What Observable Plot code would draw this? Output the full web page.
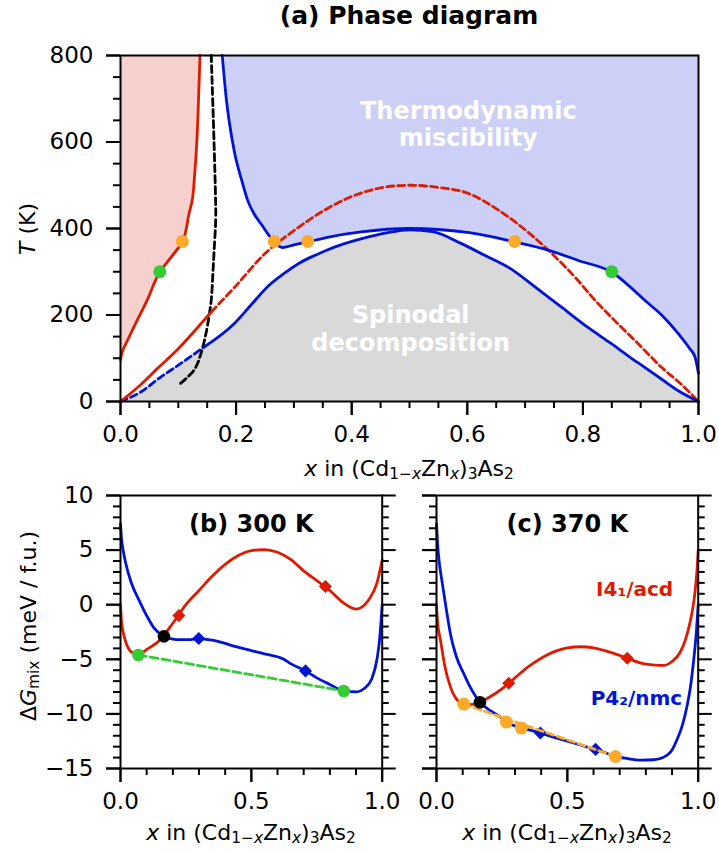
<!DOCTYPE html>
<html><head><meta charset="utf-8">
<script src="https://cdn.jsdelivr.net/npm/d3@7"></script>
<script src="https://cdn.jsdelivr.net/npm/@observablehq/plot@0.6"></script>
<style>
html,body{margin:0;padding:0;background:#fff;}
#wrap{position:relative;width:719px;height:853px;overflow:hidden;font-family:"DejaVu Sans",sans-serif;color:#000;}
#wrap > svg{position:absolute;margin:0;}
.lbl{position:absolute;white-space:nowrap;transform:translate(-50%,-50%);font-size:22px;line-height:1;}
.rot{transform:translate(-50%,-50%) rotate(-90deg);}
.bold{font-weight:bold;font-size:25px;}
.lbl sub{font-size:70%;vertical-align:-0.22em;line-height:0;}
</style></head><body><div id="wrap"></div>
<script>
// ===== Panel (a): phase diagram (x = Zn fraction, T in K) =====
const redBinX = [0, 0.003, 0.012, 0.023, 0.046, 0.068, 0.09, 0.107, 0.1185, 0.124, 0.128, 0.132, 0.135, 0.1375];
const redBinT = [96, 115, 141, 172, 234, 299, 338, 369, 434, 465, 520, 600, 700, 800];
const redLowX = [0, 0.03, 0.0636, 0.1, 0.13, 0.157];
const redLowT = [0, 33, 76, 122, 166, 207];
const redDashX = [0.157, 0.2, 0.25, 0.3, 0.35, 0.4, 0.45, 0.5, 0.55, 0.6, 0.65, 0.7, 0.74, 0.786, 0.821, 0.855, 0.896, 0.936, 0.97, 1.0];
const redDashT = [207, 268, 342, 395, 440, 474, 494, 500, 495, 482, 446, 397, 350, 288, 234, 187, 133, 79, 40, 0];
const blueBinX = [0.176, 0.183, 0.1965, 0.21, 0.22, 0.231, 0.243, 0.266, 0.28, 0.3, 0.324, 0.36, 0.416, 0.5, 0.6, 0.682, 0.74, 0.792, 0.85, 0.907, 0.94, 0.965, 0.985, 0.994, 1.0];
const blueBinT = [800, 700, 581, 510, 465, 434, 411, 369, 356, 362, 369, 380, 392, 400, 391, 369, 350, 326, 299, 234, 195, 157, 122, 103, 65];
const blueDashX = [0, 0.035, 0.069, 0.1, 0.1445];
const blueDashT = [0, 22, 56, 84, 126];
const spinX = [0.1445, 0.17, 0.1965, 0.225, 0.254, 0.283, 0.312, 0.34, 0.37, 0.416, 0.46, 0.5, 0.54, 0.59, 0.63, 0.676, 0.72, 0.763, 0.81, 0.85, 0.88, 0.907, 0.94, 0.965, 1.0];
const spinT = [126, 150, 180, 222, 265, 296, 322, 340, 357, 376, 390, 397, 393, 365, 338, 306, 262, 218, 170, 133, 104, 79, 48, 25, 0];
const blackX = [0.104, 0.115, 0.127, 0.134, 0.139, 0.145, 0.150, 0.154, 0.157, 0.160, 0.162, 0.1647, 0.1645, 0.1618, 0.157];
const blackT = [42, 55, 72, 90, 110, 140, 172, 205, 234, 300, 350, 420, 465, 600, 800];
const greenAX = [0.068, 0.85];
const greenAT = [300, 300];
const orangeAX = [0.107, 0.266, 0.324, 0.682];
const orangeAT = [370, 370, 370, 370];
const regionLabels = ["Thermodynamic\nmiscibility", "Spinodal\ndecomposition"];

// ===== Panel (b): 300 K, ΔG_mix (meV / f.u.) =====
const redBX = [0, 0.004, 0.01, 0.02, 0.04, 0.068, 0.1, 0.15, 0.2, 0.25, 0.3, 0.35, 0.4, 0.45, 0.5, 0.55, 0.6, 0.65, 0.7, 0.75, 0.8, 0.85, 0.9, 0.95, 0.98, 1.0];
const redBG = [0, -1.6, -2.5, -3.4, -4.3, -4.6, -4.1, -3.25, -1.7, 0.0, 1.3, 2.6, 3.7, 4.5, 4.95, 5.05, 4.8, 4.15, 3.1, 2.2, 1.3, 0.2, -0.4, 0.5, 2.0, 4.1];
const blueBX = [0, 0.004, 0.01, 0.02, 0.04, 0.076, 0.1, 0.127, 0.166, 0.2, 0.229, 0.26, 0.299, 0.35, 0.4, 0.433, 0.5, 0.55, 0.624, 0.65, 0.707, 0.75, 0.8, 0.853, 0.904, 0.93, 0.96, 0.98, 0.99, 1.0];
const blueBG = [7.4, 6.0, 5.0, 3.8, 2.1, 0.15, -1.0, -2.1, -2.9, -3.15, -3.2, -3.2, -3.1, -3.25, -3.55, -3.8, -4.2, -4.5, -5.0, -5.4, -6.06, -6.7, -7.3, -7.9, -7.98, -7.7, -6.8, -5.0, -3.2, 0];
const greenBX = [0.068, 0.853];
const greenBG = [-4.6, -7.9];
const blackBX = [0.166];
const blackBG = [-2.9];
const redDiaBX = [0.223, 0.783];
const redDiaBG = [-1.0, 1.67];
const blueDiaBX = [0.299, 0.707];
const blueDiaBG = [-3.1, -6.06];

// ===== Panel (c): 370 K =====
const redCX = [0, 0.004, 0.015, 0.03, 0.05, 0.075, 0.104, 0.13, 0.166, 0.2, 0.25, 0.276, 0.3, 0.35, 0.4, 0.45, 0.5, 0.55, 0.6, 0.65, 0.7, 0.729, 0.75, 0.8, 0.85, 0.87, 0.9, 0.93, 0.95, 0.97, 0.985, 0.995, 1.0];
const redCG = [0, -1.6, -3.2, -5.4, -7.3, -8.6, -9.1, -9.15, -8.94, -8.5, -7.7, -7.2, -6.7, -5.7, -4.9, -4.3, -3.95, -3.85, -3.95, -4.25, -4.65, -4.9, -5.1, -5.45, -5.55, -5.55, -5.2, -4.4, -3.3, -1.5, 0.6, 3.0, 5.0];
const blueCX = [0, 0.004, 0.01, 0.02, 0.028, 0.04, 0.0535, 0.075, 0.104, 0.13, 0.166, 0.2, 0.25, 0.267, 0.3, 0.324, 0.36, 0.397, 0.45, 0.5, 0.55, 0.608, 0.65, 0.684, 0.72, 0.78, 0.83, 0.88, 0.9, 0.92, 0.94, 0.958, 0.97, 0.983, 0.993, 1.0];
const blueCG = [7.4, 5.6, 4.0, 2.3, 1.06, -0.8, -2.7, -4.7, -6.3, -7.6, -8.94, -9.6, -10.4, -10.75, -11.1, -11.3, -11.5, -11.75, -12.15, -12.5, -12.85, -13.25, -13.6, -13.9, -14.05, -14.24, -14.2, -13.8, -13.3, -12.3, -11.0, -9.2, -7.6, -5.0, -2.5, 0];
const orangeCX = [0.104, 0.267, 0.324, 0.684];
const orangeCG = [-9.1, -10.75, -11.3, -13.9];
const tangentCX = [0.104, 0.684];
const tangentCG = [-9.1, -13.9];
const blackCX = [0.166];
const blackCG = [-8.94];
const redDiaCX = [0.276, 0.729];
const redDiaCG = [-7.2, -4.9];
const blueDiaCX = [0.397, 0.608];
const blueDiaCG = [-11.75, -13.25];
const phaseNames = ["I4₁/acd", "P4₂/nmc"];

// ===== ticks =====
const aXTicks = [0, 0.2, 0.4, 0.6, 0.8, 1.0];
const aXMinor = [0.05, 0.1, 0.15, 0.25, 0.3, 0.35, 0.45, 0.5, 0.55, 0.65, 0.7, 0.75, 0.85, 0.9, 0.95];
const aYTicks = [0, 200, 400, 600, 800];
const aYMinor = [50, 100, 150, 250, 300, 350, 450, 500, 550, 650, 700, 750];
const bXTicks = [0, 0.5, 1.0];
const bXMinor = [0.1, 0.2, 0.3, 0.4, 0.6, 0.7, 0.8, 0.9];
const bYTicks = [-15, -10, -5, 0, 5, 10];
const bYMinor = [-14, -13, -12, -11, -9, -8, -7, -6, -4, -3, -2, -1, 1, 2, 3, 4, 6, 7, 8, 9];

// ===== styling =====
const RED = "#de1b00", BLUE = "#0014d2", ORANGE = "#ffa928", GREEN = "#33cc33";
const PINK_FILL = "#f6d0cc", BLUE_FILL = "#cccff6", GRAY_FILL = "#d9d9d9";
const LW = 2.8;
const MAJOR = 14, MINOR = 7;
const zip = (xs, ys) => xs.map((x, i) => ({x, y: ys[i]}));
const fmtMinus = d => d < 0 ? "\u2212" + Math.abs(d) : String(d);
const baseStyle = {background: "transparent", fontFamily: "DejaVu Sans", fontSize: "23px", overflow: "visible", color: "black"};

// Tick labels via Plot axes; tick strokes via rules in data units (length derived from scale span)
function axes(dim, xDom, yDom, xT, xM, yT, yM, xFmt, showY, rightTicks) {
  const innerW = dim.width - dim.marginLeft - dim.marginRight;
  const innerH = dim.height - dim.marginTop - dim.marginBottom;
  const ux = (xDom[1] - xDom[0]) / innerW;   // data units per pixel (x)
  const uy = (yDom[1] - yDom[0]) / innerH;   // data units per pixel (y)
  const x0 = xDom[0], x1 = xDom[1], y0 = yDom[0];
  const st = {stroke: "black", strokeWidth: 2};
  const m = [
    Plot.axisX(xT, {anchor: "bottom", tickSize: MAJOR, tickPadding: 10, strokeWidth: 2, stroke: "black", tickFormat: xFmt, fontSize: 23, label: null}),
    Plot.axisY(yT, {anchor: "left", tickSize: MAJOR, tickPadding: 13, strokeWidth: 2, stroke: "black", tickFormat: showY ? fmtMinus : () => "", fontSize: 23, label: null}),
    Plot.ruleX(xT, {x: d => d, y1: y0, y2: y0 - MAJOR * uy, ...st}),
    Plot.ruleX(xM, {x: d => d, y1: y0, y2: y0 - MINOR * uy, ...st}),
    Plot.ruleY(yT, {y: d => d, x1: x0, x2: x0 - MAJOR * ux, ...st}),
    Plot.ruleY(yM, {y: d => d, x1: x0, x2: x0 - MINOR * ux, ...st})
  ];
  if (rightTicks) {
    m.push(Plot.ruleY(yT, {y: d => d, x1: x1, x2: x1 + MAJOR * ux, ...st}));
    m.push(Plot.ruleY(yM, {y: d => d, x1: x1, x2: x1 + MINOR * ux, ...st}));
  }
  return m;
}

const wrap = document.getElementById("wrap");
function place(el, left, top) { el.style.left = left + "px"; el.style.top = top + "px"; wrap.appendChild(el); }

// ----- Panel (a) -----
const dimA = {width: 719, height: 480, marginLeft: 120, marginRight: 21, marginTop: 55, marginBottom: 79};
const spinAll = zip(blueDashX, blueDashT).concat(zip(spinX, spinT).slice(1));
const plotA = Plot.plot({
  ...dimA,
  x: {domain: [0, 1], label: null},
  y: {domain: [0, 800], label: null},
  style: baseStyle,
  marks: [
    Plot.areaX(zip(redBinX, redBinT), {y: "y", x1: 0, x2: "x", fill: PINK_FILL, curve: "monotone-y"}),
    Plot.areaY(zip(blueBinX, blueBinT), {x: "x", y1: "y", y2: 800, fill: BLUE_FILL, curve: "monotone-x"}),
    Plot.areaY(spinAll, {x: "x", y1: 0, y2: "y", fill: GRAY_FILL, curve: "monotone-x"}),
    Plot.text([regionLabels[0]], {x: 0.6017, y: 642, fill: "white", fontWeight: "bold", fontSize: 24, lineHeight: 1.15}),
    Plot.text([regionLabels[1]], {x: 0.502, y: 170, fill: "white", fontWeight: "bold", fontSize: 24, lineHeight: 1.15}),
    Plot.line(zip(redDashX, redDashT), {x: "x", y: "y", stroke: RED, strokeWidth: LW, strokeDasharray: "7,4", curve: "catmull-rom"}),
    Plot.line(zip(blueDashX, blueDashT), {x: "x", y: "y", stroke: BLUE, strokeWidth: LW, strokeDasharray: "7,4", curve: "monotone-x"}),
    Plot.line(zip(blackX, blackT), {x: "x", y: "y", stroke: "black", strokeWidth: LW, strokeDasharray: "7,4", curve: "catmull-rom"}),
    Plot.line(zip(spinX, spinT), {x: "x", y: "y", stroke: BLUE, strokeWidth: LW, curve: "monotone-x"}),
    Plot.line(zip(blueBinX, blueBinT), {x: "x", y: "y", stroke: BLUE, strokeWidth: LW, curve: "monotone-x"}),
    Plot.line(zip(redBinX, redBinT), {x: "x", y: "y", stroke: RED, strokeWidth: LW, curve: "monotone-y"}),
    Plot.line(zip(redLowX, redLowT), {x: "x", y: "y", stroke: RED, strokeWidth: LW, curve: "monotone-x"}),
    Plot.dot(zip(greenAX, greenAT), {x: "x", y: "y", r: 6.5, fill: GREEN}),
    Plot.dot(zip(orangeAX, orangeAT), {x: "x", y: "y", r: 6.5, fill: ORANGE}),
    Plot.frame({stroke: "black", strokeWidth: 2}),
    ...axes(dimA, [0, 1], [0, 800], aXTicks, aXMinor, aYTicks, aYMinor, d => d.toFixed(1), true, false)
  ]
});
place(plotA, 0, 0);

// ----- Panel (b) -----
const dimB = {width: 400, height: 380, marginLeft: 120, marginRight: 18.3, marginTop: 25, marginBottom: 82};
const plotB = Plot.plot({
  ...dimB,
  x: {domain: [0, 1], label: null},
  y: {domain: [-15, 10], label: null},
  style: baseStyle,
  marks: [
    Plot.line(zip(blueBX, blueBG), {x: "x", y: "y", stroke: BLUE, strokeWidth: LW, curve: "monotone-x"}),
    Plot.line(zip(redBX, redBG), {x: "x", y: "y", stroke: RED, strokeWidth: LW, curve: "monotone-x"}),
    Plot.line(zip(greenBX, greenBG), {x: "x", y: "y", stroke: GREEN, strokeWidth: LW, strokeDasharray: "8,4"}),
    Plot.dot(zip(redDiaBX, redDiaBG), {x: "x", y: "y", symbol: "square", rotate: 45, r: 5.2, fill: RED}),
    Plot.dot(zip(blueDiaBX, blueDiaBG), {x: "x", y: "y", symbol: "square", rotate: 45, r: 5.2, fill: BLUE}),
    Plot.dot(zip(greenBX, greenBG), {x: "x", y: "y", r: 6.3, fill: GREEN}),
    Plot.dot(zip(blackBX, blackBG), {x: "x", y: "y", r: 6.3, fill: "black"}),
    Plot.text(["(b) 300 K"], {x: 0.5, y: 7.4, fontWeight: "bold", fontSize: 24}),
    Plot.frame({stroke: "black", strokeWidth: 2}),
    ...axes(dimB, [0, 1], [-15, 10], bXTicks, bXMinor, bYTicks, bYMinor, d => d.toFixed(1), true, true)
  ]
});
place(plotB, 0, 470);

// ----- Panel (c) -----
const dimC = {width: 319, height: 380, marginLeft: 36, marginRight: 21.3, marginTop: 25, marginBottom: 82};
const plotC = Plot.plot({
  ...dimC,
  x: {domain: [0, 1], label: null},
  y: {domain: [-15, 10], label: null},
  style: baseStyle,
  marks: [
    Plot.line(zip(blueCX, blueCG), {x: "x", y: "y", stroke: BLUE, strokeWidth: LW, curve: "monotone-x"}),
    Plot.line(zip(redCX, redCG), {x: "x", y: "y", stroke: RED, strokeWidth: LW, curve: "monotone-x"}),
    Plot.dot(zip(redDiaCX, redDiaCG), {x: "x", y: "y", symbol: "square", rotate: 45, r: 5.2, fill: RED}),
    Plot.dot(zip(blueDiaCX, blueDiaCG), {x: "x", y: "y", symbol: "square", rotate: 45, r: 5.2, fill: BLUE}),
    Plot.line(zip(tangentCX, tangentCG), {x: "x", y: "y", stroke: ORANGE, strokeWidth: LW, strokeDasharray: "7,4"}),
    Plot.dot(zip(orangeCX, orangeCG), {x: "x", y: "y", r: 6.5, fill: ORANGE}),
    Plot.dot(zip(blackCX, blackCG), {x: "x", y: "y", r: 6.3, fill: "black"}),
    Plot.text(["(c) 370 K"], {x: 0.5, y: 7.4, fontWeight: "bold", fontSize: 24}),
    Plot.text([phaseNames[0]], {x: 0.757, y: 1.36, fill: RED, fontWeight: "bold", fontSize: 20}),
    Plot.text([phaseNames[1]], {x: 0.764, y: -8.64, fill: BLUE, fontWeight: "bold", fontSize: 20}),
    Plot.frame({stroke: "black", strokeWidth: 2}),
    ...axes(dimC, [0, 1], [-15, 10], bXTicks, bXMinor, bYTicks, bYMinor, d => d.toFixed(1), false, true)
  ]
});
place(plotC, 400, 470);

// ----- HTML labels (rich text with sub/italics) -----
const xLabelHTML = '<i>x</i> in (Cd<sub>1\u2212<i>x</i></sub>Zn<sub><i>x</i></sub>)<sub>3</sub>As<sub>2</sub>';
function label(html, cx, cy, cls) {
  const d = document.createElement("div");
  d.className = "lbl " + (cls || "");
  d.innerHTML = html;
  d.style.left = cx + "px"; d.style.top = cy + "px";
  wrap.appendChild(d);
}
label("(a) Phase diagram", 409, 15, "bold");
label(xLabelHTML, 409, 469);
label(xLabelHTML, 251, 833);
label(xLabelHTML, 567, 833);
label("<i>T</i> (K)", 28, 229, "rot");
label("\u0394<i>G</i><sub>mix</sub> (meV / f.u.)", 29, 626, "rot");
</script></body></html>
